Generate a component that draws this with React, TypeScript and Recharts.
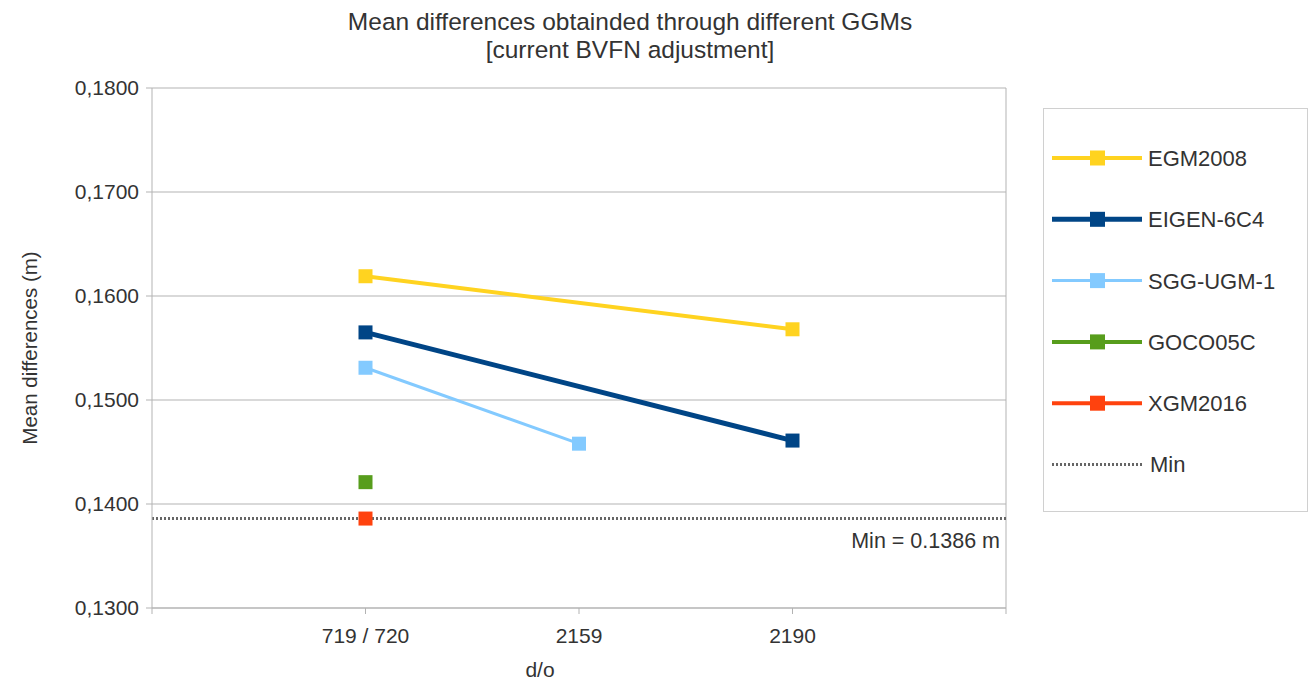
import React from "react";
import { LineChart, Line, XAxis, YAxis, CartesianGrid, ReferenceLine, Label } from "recharts";

const categories = ["", "719 / 720", "2159", "2190", ""];
const egm2008 = [null, 0.1619, null, 0.1568, null];
const eigen6c4 = [null, 0.1565, null, 0.1461, null];
const sggUgm1 = [null, 0.1531, 0.1458, null, null];
const goco05c = [null, 0.1421, null, null, null];
const xgm2016 = [null, 0.1386, null, null, null];
const minValue = 0.1386;
const yTicks = [0.13, 0.14, 0.15, 0.16, 0.17, 0.18];

const series = [
  { key: "EGM2008", values: egm2008, color: "#ffd320", width: 4 },
  { key: "EIGEN-6C4", values: eigen6c4, color: "#004586", width: 5 },
  { key: "SGG-UGM-1", values: sggUgm1, color: "#83caff", width: 3 },
  { key: "GOCO05C", values: goco05c, color: "#579d1c", width: 4 },
  { key: "XGM2016", values: xgm2016, color: "#ff420e", width: 4 },
];

const data = categories.map((c, i) => {
  const row: Record<string, number | null> = { x: i };
  series.forEach((s) => (row[s.key] = s.values[i]));
  return row;
});

const FONT = "'Liberation Sans', Arial, sans-serif";
const TXT = "#333333";
const GRID = "#b3b3b3";

const squareDot = (color: string) => (props: any) => {
  const { cx, cy, index } = props;
  if (cx == null || cy == null || props.value == null) return <g key={index} />;
  return <rect key={index} x={cx - 7} y={cy - 7} width={14} height={14} fill={color} />;
};

function LegendBox() {
  const rowH = 61.3;
  return (
    <div
      style={{
        position: "absolute",
        left: 1043,
        top: 108,
        width: 265,
        height: 404,
        border: "1px solid #d0d0d0",
        boxSizing: "border-box",
        background: "#fff",
      }}
    >
      <svg width={265} height={404} style={{ position: "absolute", left: 0, top: 0 }}>
        {series.map((s, i) => {
          const y = 49 + i * rowH;
          return (
            <g key={s.key}>
              <line x1={8} x2={98} y1={y} y2={y} stroke={s.color} strokeWidth={s.width} />
              <rect x={46} y={y - 7.5} width={15} height={15} fill={s.color} />
              <text x={104} y={y} dy="0.36em" fontSize={22} fontFamily={FONT} fill={TXT}>
                {s.key}
              </text>
            </g>
          );
        })}
        <line
          x1={8}
          x2={98}
          y1={49 + 5 * rowH}
          y2={49 + 5 * rowH}
          stroke="#666"
          strokeWidth={3}
          strokeDasharray="2 2"
        />
        <text x={106} y={49 + 5 * rowH} dy="0.36em" fontSize={22} fontFamily={FONT} fill={TXT}>
          Min
        </text>
      </svg>
    </div>
  );
}

export default function App() {
  return (
    <div style={{ position: "absolute", left: 0, top: 0, width: 1312, height: 682, background: "#fff", fontFamily: FONT }}>
      <div
        style={{
          position: "absolute",
          left: 0,
          width: 1260,
          top: 8,
          textAlign: "center",
          fontSize: 24.5,
          lineHeight: "28px",
          color: TXT,
        }}
      >
        Mean differences obtainded through different GGMs
        <br />
        [current BVFN adjustment]
      </div>
      <LineChart
        width={1312}
        height={682}
        data={data}
        margin={{ top: 88, right: 306, bottom: 0, left: 0 }}
        style={{ position: "absolute", left: 0, top: 0 }}
      >
        <CartesianGrid vertical={false} stroke={GRID} horizontalValues={yTicks} />
        <XAxis
          dataKey="x"
          type="number"
          domain={[0, 4]}
          ticks={[0, 1, 2, 3, 4]}
          tickFormatter={(v: number) => categories[v]}
          height={74}
          stroke={GRID}
          tickSize={6}
          tickMargin={14}
          tick={{ fill: TXT, fontSize: 21, fontFamily: FONT }}
          interval={0}
        >
          <Label value="d/o" position="insideBottom" offset={5} dx={-39} fill={TXT} fontSize={21} fontFamily={FONT} />
        </XAxis>
        <YAxis
          type="number"
          domain={[0.13, 0.18]}
          ticks={yTicks}
          width={152}
          stroke={GRID}
          tickSize={6}
          tickMargin={7}
          tickFormatter={(v: number) => v.toFixed(4).replace(".", ",")}
          tick={{ fill: TXT, fontSize: 21, fontFamily: FONT }}
        >
          <Label
            value="Mean differences (m)"
            angle={-90}
            position="insideLeft"
            offset={30}
            fill={TXT}
            fontSize={20.5}
            fontFamily={FONT}
            style={{ textAnchor: "middle" }}
          />
        </YAxis>
        <ReferenceLine x={4} stroke={GRID} />
        {series.map((s) => (
          <Line
            key={s.key}
            dataKey={s.key}
            stroke={s.color}
            strokeWidth={s.width}
            connectNulls
            dot={squareDot(s.color)}
            activeDot={false}
            isAnimationActive={false}
          />
        ))}
        <ReferenceLine
          y={minValue}
          stroke="#666"
          strokeWidth={3}
          strokeDasharray="2 2"
          label={(props: any) => {
            const vb = props.viewBox;
            return (
              <text
                x={vb.x + vb.width - 6}
                y={vb.y + 22}
                textAnchor="end"
                dy="0.36em"
                fontSize={21.5}
                fontFamily={FONT}
                fill={TXT}
              >
                {`Min = ${minValue} m`}
              </text>
            );
          }}
        />
      </LineChart>
      <LegendBox />
    </div>
  );
}
